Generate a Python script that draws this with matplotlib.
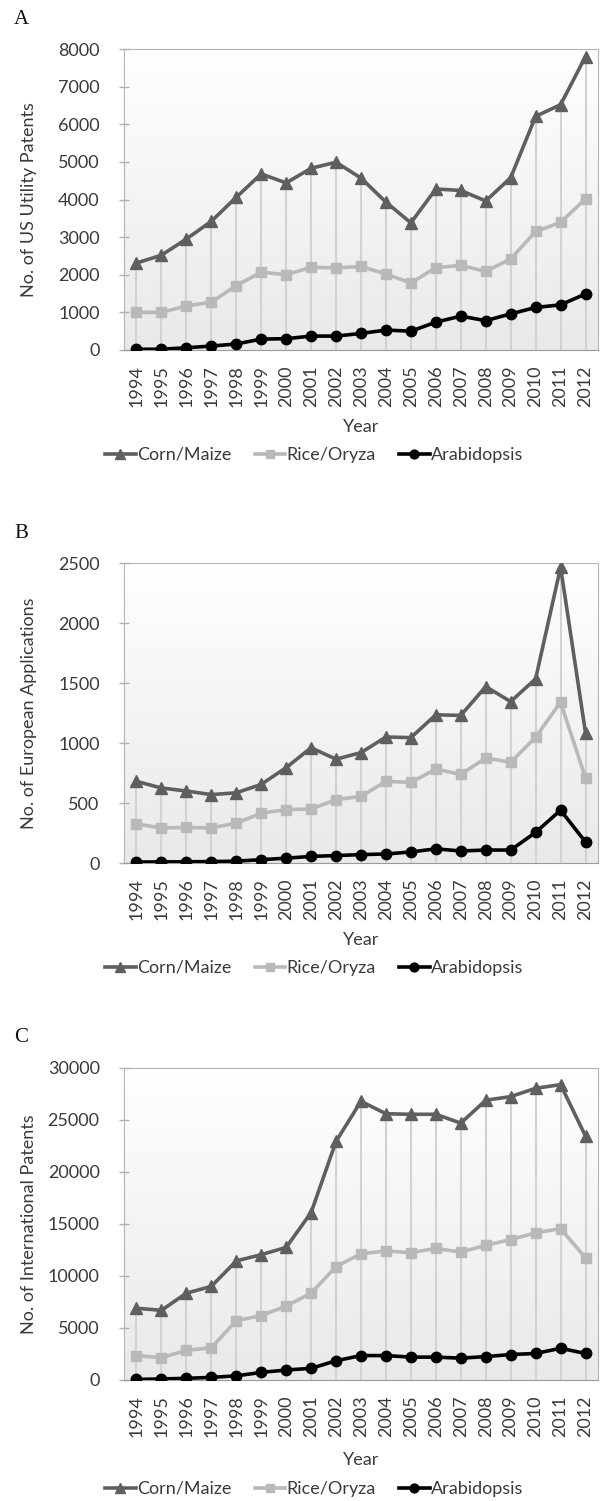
import numpy as np
import matplotlib
matplotlib.use("Agg")
import matplotlib.pyplot as plt

years = [str(y) for y in range(1994, 2013)]
series_names = ["Corn/Maize", "Rice/Oryza", "Arabidopsis"]

# Panel A - US utility patents
us_corn = [2310, 2520, 2950, 3420, 4060, 4680, 4440, 4830, 4990, 4570,
           3930, 3380, 4280, 4240, 3960, 4580, 6210, 6520, 7800]
us_rice = [1000, 1000, 1170, 1270, 1710, 2070, 2000, 2200, 2180, 2220,
           2020, 1780, 2190, 2250, 2090, 2420, 3150, 3390, 4020]
us_arab = [20, 20, 60, 105, 160, 290, 300, 370, 370, 440,
           530, 500, 740, 900, 780, 960, 1130, 1200, 1490]

# Panel B - European applications
ep_corn = [680, 625, 600, 570, 585, 655, 795, 960, 865, 920,
           1050, 1045, 1235, 1230, 1470, 1345, 1535, 2465, 1085]
ep_rice = [325, 292, 296, 292, 332, 415, 445, 450, 528, 555,
           680, 672, 782, 738, 875, 840, 1048, 1340, 708]
ep_arab = [8, 9, 10, 12, 15, 28, 40, 55, 62, 70,
           75, 92, 118, 100, 108, 108, 255, 440, 175]

# Panel C - international patents
wo_corn = [6900, 6700, 8350, 9000, 11450, 12050, 12750, 16100, 22950, 26800,
           25600, 25550, 25550, 24700, 26900, 27250, 28050, 28400, 23450]
wo_rice = [2350, 2150, 2850, 3100, 5700, 6200, 7100, 8350, 10900, 12150,
           12400, 12250, 12650, 12300, 12950, 13500, 14150, 14550, 11750]
wo_arab = [50, 100, 160, 250, 400, 730, 960, 1120, 1850, 2350,
           2350, 2200, 2200, 2100, 2250, 2450, 2550, 3050, 2550]

panels = [
    ("A", "No. of US Utility Patents", [us_corn, us_rice, us_arab], 8000, 1000),
    ("B", "No. of European Applications", [ep_corn, ep_rice, ep_arab], 2500, 500),
    ("C", "No. of International Patents", [wo_corn, wo_rice, wo_arab], 30000, 5000),
]

# axes boxes in pixels (top, bottom) on a 601x1501 canvas
W, H = 601, 1501
boxes = [(49, 350), (563, 863), (1068, 1380)]
letter_y = [20, 534, 1038]
legend_y = [455, 968, 1489]

colors = ["#5f5f5f", "#b9b9b9", "#000000"]
markers = ["^", "s", "o"]
msizes = [8, 7.5, 7.5]
txt = "#3a3a3a"
fs = 13

plt.rcParams["font.family"] = ["Lato", "DejaVu Sans"]

fig = plt.figure(figsize=(W / 100, H / 100), dpi=100)
x = np.arange(len(years))
grad = np.linspace(1.0, 0.0, 256).reshape(-1, 1)
gcmap = matplotlib.colors.LinearSegmentedColormap.from_list("g", ["#e9e9e9", "#ffffff"])

for (letter, ylab, data, ymax, ystep), (top, bot), ly, lgy in zip(panels, boxes, letter_y, legend_y):
    ax = fig.add_axes([124 / W, 1 - bot / H, 474 / W, (bot - top) / H])
    # Excel-style gradient fill in plot area
    ax.imshow(grad, extent=[0, 1, 0, 1], transform=ax.transAxes, aspect="auto",
              cmap=gcmap, zorder=0)
    # drop lines
    tops = np.max(np.array(data), axis=0)
    ax.vlines(x, 0, tops, color="#d2d2d2", lw=1.5, zorder=1)
    handles = []
    for vals, c, m, ms, name in zip(data, colors, markers, msizes, series_names):
        h, = ax.plot(x, vals, color=c, marker=m, markersize=ms, lw=2.6,
                     markeredgecolor=c, label=name, zorder=3)
        handles.append(h)
    ax.set_xlim(-0.5, len(years) - 0.5)
    ax.set_ylim(0, ymax)
    ax.set_yticks(np.arange(0, ymax + 1, ystep))
    ax.set_xticks(x)
    ax.set_xticklabels(years, rotation=90)
    ax.tick_params(axis="y", colors="#b0b0b0", labelcolor=txt, labelsize=fs,
                   direction="inout", length=7, width=1, pad=14)
    ax.tick_params(axis="x", length=0, pad=11, labelcolor=txt, labelsize=fs)
    for s in ax.spines.values():
        s.set_color("#b5b5b5")
    ax.spines["bottom"].set_color("#9a9a9a")
    ax.set_ylabel(ylab, fontsize=fs, color=txt)
    ax.yaxis.set_label_coords(-0.2, 0.5)
    ax.yaxis.label.set_va("center")
    ax.set_xlabel("Year", fontsize=fs, color=txt)
    ax.xaxis.set_label_coords(0.5, -0.256)
    ax.xaxis.label.set_va("center")
    fig.text(14 / W, 1 - ly / H, letter, family="Liberation Serif", fontsize=15,
             ha="left", va="center", color="#111111")
    fig.legend(handles=handles, loc="center", bbox_to_anchor=(314 / W, 1 - lgy / H),
               ncol=3, frameon=False, fontsize=fs, handlelength=1.7, handletextpad=0.05,
               columnspacing=1.3, labelcolor=txt, borderpad=0, markerscale=0.85)

fig.savefig("out.png", dpi=100)
